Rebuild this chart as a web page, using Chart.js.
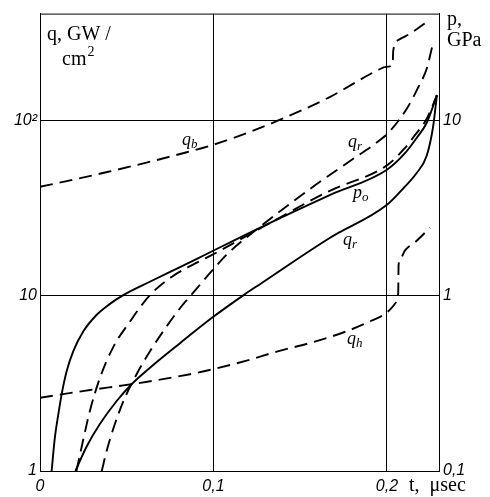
<!DOCTYPE html>
<html><head><meta charset="utf-8">
<script src="https://cdn.jsdelivr.net/npm/chart.js@4"></script>
<style>html,body{margin:0;padding:0;background:#fff;} canvas{display:block;}</style>
</head><body>
<canvas id="c" width="490" height="497"></canvas>
<script>
// Axis ticks
const xTicks = [0, 0.1, 0.2];
const xTickLabels = ['0', '0,1', '0,2'];
const yTicks = [1, 10, 100];
const yTickLabels = ['1', '10', '10²'];
const y2Ticks = [0.1, 1, 10];
const y2TickLabels = ['0,1', '1', '10'];

// p0 (solid)
const tP0 = [0.0067, 0.0086, 0.0106, 0.0125, 0.0154, 0.0192, 0.025, 0.0327, 0.0403, 0.048, 0.063, 0.0807, 0.0922, 0.1249, 0.167, 0.2, 0.21, 0.217, 0.223, 0.2288];
const qP0 = [1, 1.56, 2.12, 2.75, 3.72, 4.83, 6.27, 7.8, 9.0, 10.1, 12.0, 14.6, 16.6, 24.0, 37.6, 52.5, 64.6, 79.4, 97.7, 140];
// q_r (solid)
const tQrSolid = [0.0204, 0.0269, 0.0346, 0.0442, 0.0528, 0.0634, 0.0807, 0.0999, 0.118, 0.127, 0.167, 0.2, 0.21, 0.217, 0.2229, 0.2265, 0.2288];
const qQrSolid = [1, 1.38, 1.86, 2.51, 3.13, 3.89, 5.37, 7.59, 10.2, 11.7, 21.4, 33.1, 41.7, 50.1, 63.1, 91.2, 140];
// dashed curve running near p0
const tP0Dash = [0.021, 0.024, 0.0288, 0.0346, 0.042, 0.0519, 0.0634, 0.0767, 0.0922, 0.1, 0.125, 0.167, 0.2, 0.21, 0.215, 0.223, 0.2288];
const qP0Dash = [1, 1.37, 2.21, 3.41, 5.05, 7.14, 10.1, 13.0, 15.8, 17.3, 23.7, 39.8, 55.6, 69.2, 80, 103, 140];
// q_r (dashed, steep)
const tQrDash = [0.0356, 0.0384, 0.0432, 0.049, 0.0557, 0.0634, 0.071, 0.0807, 0.0903, 0.0997, 0.1076, 0.125, 0.157, 0.167, 0.1787, 0.196, 0.2017, 0.2115, 0.218, 0.223, 0.226];
const qQrDash = [1, 1.3, 1.86, 2.63, 3.57, 4.83, 6.27, 8.5, 11.0, 14.1, 17.2, 24.0, 41.7, 49.0, 58.9, 77.6, 87.1, 117.5, 154.9, 199.5, 263];
// q_b (dashed, upper)
const tQb = [0, 0.0154, 0.04, 0.063, 0.0846, 0.0997, 0.118, 0.137, 0.167, 0.195, 0.1995, 0.2033, 0.2036, 0.2063, 0.2133, 0.2229];
const qQb = [42, 45.2, 51.3, 58.2, 66.1, 72.8, 84.1, 100, 136.5, 195, 203, 210, 250, 288, 314, 366];
// q_h (dashed, lower)
const tQh = [0, 0.0288, 0.0537, 0.0865, 0.1, 0.118, 0.137, 0.157, 0.176, 0.191, 0.2, 0.2056, 0.2065, 0.2067, 0.2075, 0.2104, 0.2161, 0.2248];
const qQh = [2.62, 2.9, 3.14, 3.57, 3.82, 4.24, 4.82, 5.43, 6.24, 7.21, 8.04, 9.3, 10.5, 15, 16.0, 18.2, 20.2, 24.5];

// curve labels (data coords)
const curveLabels = [
  {main: 'q', sub: 'b', t: 0.0818, v: 72.8},
  {main: 'q', sub: 'r', t: 0.1775, v: 71},
  {main: 'p', sub: 'o', t: 0.1804, v: 36},
  {main: 'q', sub: 'r', t: 0.1746, v: 19.5},
  {main: 'q', sub: 'h', t: 0.1769, v: 5.3}
];

const pts = (t, q) => t.map((x, i) => ({x: x, y: q[i]}));
const DASH = [13, 7];
function ds(t, q, dashed) {
  return {
    data: pts(t, q), borderColor: '#000', borderWidth: 1.9,
    borderDash: dashed ? DASH : [], pointRadius: 0, fill: false,
    cubicInterpolationMode: 'monotone', yAxisID: 'y'
  };
}

const tickFont = {family: 'Liberation Sans', style: 'italic', size: 16};

const deco = {
  id: 'deco',
  afterDraw(chart) {
    const {ctx, chartArea: a, scales} = chart;
    const x = scales.x, y = scales.y;
    ctx.save();
    ctx.strokeStyle = '#000'; ctx.lineWidth = 1;
    ctx.beginPath(); ctx.moveTo(a.left, a.top + 0.5); ctx.lineTo(a.right, a.top + 0.5); ctx.stroke();
    ctx.fillStyle = '#000';
    ctx.textBaseline = 'alphabetic';
    ctx.font = '20px "Liberation Serif"';
    ctx.fillText('q, GW /', a.left + 7, a.top + 26);
    ctx.fillText('cm', a.left + 22, a.top + 51);
    const cmW = ctx.measureText('cm').width;
    ctx.fillText('p,', a.right + 8, a.top + 11);
    ctx.fillText('GPa', a.right + 8, a.top + 32);
    ctx.fillText('t,  μsec', x.getPixelForValue(0.2) + 22, a.bottom + 20);
    ctx.font = '14px "Liberation Serif"';
    ctx.fillText('2', a.left + 22 + cmW + 1, a.top + 42);
    curveLabels.forEach(l => {
      const px = x.getPixelForValue(l.t), py = y.getPixelForValue(l.v);
      ctx.font = 'italic 18px "Liberation Serif"';
      ctx.fillText(l.main, px, py);
      const w = ctx.measureText(l.main).width;
      ctx.font = 'italic 13px "Liberation Serif"';
      ctx.fillText(l.sub, px + w, py + 3);
    });
    ctx.restore();
  }
};

new Chart(document.getElementById('c'), {
  type: 'line',
  data: {
    datasets: [
      ds(tP0, qP0, false),
      ds(tQrSolid, qQrSolid, false),
      ds(tP0Dash, qP0Dash, true),
      ds(tQrDash, qQrDash, true),
      ds(tQb, qQb, true),
      ds(tQh, qQh, true)
    ]
  },
  options: {
    responsive: false, animation: false, devicePixelRatio: 1,
    layout: {padding: {top: 10, left: 0, right: 0, bottom: 0}},
    plugins: {legend: {display: false}, tooltip: {enabled: false}},
    scales: {
      x: {
        type: 'linear', min: 0, max: 0.23,
        afterBuildTicks: s => { s.ticks = xTicks.map(v => ({value: v})); },
        afterFit: s => { s.height = 26; },
        ticks: {callback: (v, i) => xTickLabels[i], font: tickFont, color: '#000', padding: 6, maxRotation: 0, autoSkip: false},
        grid: {color: '#000', lineWidth: 1, drawTicks: false},
        border: {color: '#000', width: 1}
      },
      y: {
        type: 'logarithmic', position: 'left', min: 1, max: 409,
        afterBuildTicks: s => { s.ticks = yTicks.map(v => ({value: v})); },
        afterFit: s => { s.width = 40; },
        ticks: {callback: (v, i) => yTickLabels[i], font: tickFont, color: '#000', padding: 3, autoSkip: false},
        grid: {color: '#000', lineWidth: 1, drawTicks: false},
        border: {color: '#000', width: 1}
      },
      y2: {
        type: 'logarithmic', position: 'right', min: 0.1, max: 40.9,
        afterBuildTicks: s => { s.ticks = y2Ticks.map(v => ({value: v})); },
        afterFit: s => { s.width = 51; },
        ticks: {callback: (v, i) => y2TickLabels[i], font: tickFont, color: '#000', padding: 4, autoSkip: false},
        grid: {display: false, drawTicks: false},
        border: {display: true, color: '#000', width: 1}
      }
    }
  },
  plugins: [deco]
});
</script>
</body></html>
